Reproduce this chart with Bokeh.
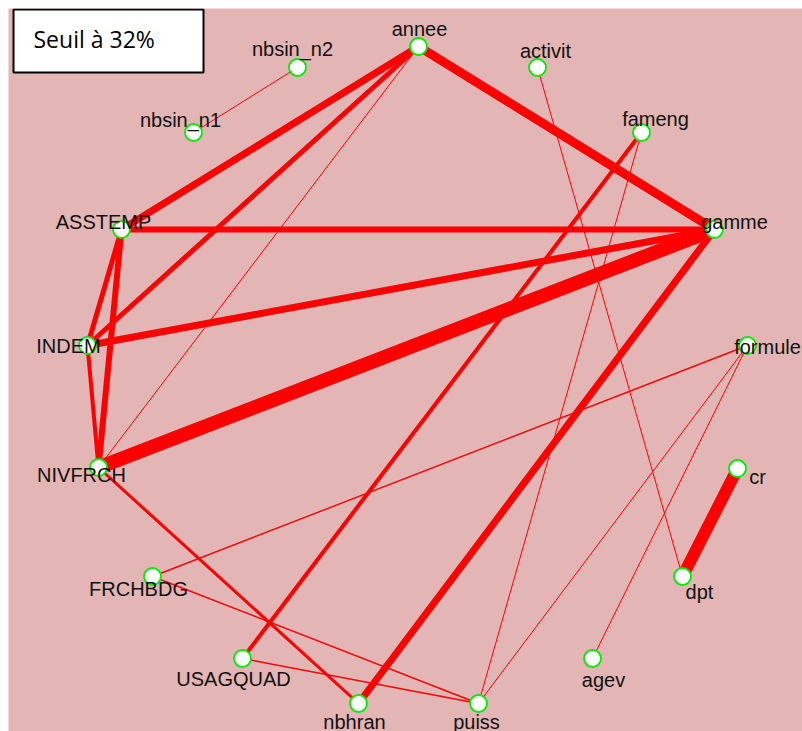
from bokeh.plotting import figure
from bokeh.models import ColumnDataSource, Range1d, Label, BoxAnnotation
from bokeh.core.properties import value
from bokeh.embed import file_html
from bokeh.resources import INLINE

# ---- data ----
node_names = ["annee", "activit", "nbsin_n2", "nbsin_n1", "fameng", "ASSTEMP", "gamme",
              "INDEM", "formule", "NIVFRCH", "cr", "FRCHBDG", "dpt", "USAGQUAD",
              "agev", "nbhran", "puiss"]
node_x = [418, 537, 297, 193, 641, 121, 714, 87, 747, 98, 737, 152, 682, 242, 592, 358, 478]
node_y = [46, 67, 67, 132, 132, 229, 229, 345, 345, 467, 468, 576, 576, 658, 658, 703, 703]
label_x = [419, 545, 292, 180, 655, 103, 734, 68, 767, 81, 757, 138, 699, 233, 603, 354, 476]
label_y = [28, 50, 48, 119, 118, 221, 221, 345, 346, 474, 476, 588, 591, 678, 679, 721, 721]

edge_from = ["NIVFRCH", "dpt", "annee", "gamme", "INDEM", "ASSTEMP", "annee", "annee",
             "ASSTEMP", "ASSTEMP", "INDEM", "fameng", "NIVFRCH", "annee", "FRCHBDG",
             "FRCHBDG", "USAGQUAD", "fameng", "activit", "nbsin_n1", "formule", "formule"]
edge_to = ["gamme", "cr", "gamme", "nbhran", "gamme", "gamme", "ASSTEMP", "INDEM",
           "NIVFRCH", "INDEM", "NIVFRCH", "USAGQUAD", "nbhran", "NIVFRCH", "formule",
           "puiss", "puiss", "puiss", "dpt", "nbsin_n2", "puiss", "agev"]
edge_weight = [14, 12, 9, 7, 7, 6, 7, 5, 6, 5, 4, 4, 3, 1, 1.4, 1.4, 1.4, 1, 1, 1, 1, 1]

threshold_text = "Seuil à 32%"

# ---- build ----
OX, OY = 8, 8
W, H = 802, 731
pos = {n: (x - OX, y - OY) for n, x, y in zip(node_names, node_x, node_y)}

p = figure(width=W, height=H, output_backend="svg", toolbar_location=None,
           x_range=Range1d(0, W - OX), y_range=Range1d(H - OY, 0),
           min_border_left=OX, min_border_top=OY, min_border_right=0, min_border_bottom=0,
           background_fill_color="#E3B5B4", border_fill_color="white",
           outline_line_color=None)
p.axis.visible = False
p.grid.visible = False

esrc = ColumnDataSource(dict(
    x0=[pos[a][0] for a in edge_from], y0=[pos[a][1] for a in edge_from],
    x1=[pos[b][0] for b in edge_to], y1=[pos[b][1] for b in edge_to],
    w=edge_weight))
p.segment(x0="x0", y0="y0", x1="x1", y1="y1", line_width="w", line_color="#FF0000", source=esrc)

nsrc = ColumnDataSource(dict(x=[v - OX for v in node_x], y=[v - OY for v in node_y]))
p.scatter(x="x", y="y", size=17, fill_color="white", line_color="#00EE00", line_width=1.8, source=nsrc)

lsrc = ColumnDataSource(dict(x=[v - OX for v in label_x], y=[v - OY for v in label_y], t=node_names))
p.text(x="x", y="y", text="t", source=lsrc, text_align="center", text_baseline="middle",
       text_font=value("Liberation Sans"), text_font_size="20px", text_color="#111111")

box = BoxAnnotation(left=13 - OX, right=203 - OX, top=9 - OY, bottom=72 - OY,
                    fill_color="white", fill_alpha=1.0, line_color="black",
                    line_alpha=1.0, line_width=2)
p.add_layout(box)
p.add_layout(Label(x=33 - OX, y=38 - OY, text=threshold_text, text_font="Open Sans",
                   text_font_size="23px", text_baseline="middle", text_color="black"))

open("out.html", "w").write(file_html(p, INLINE))
